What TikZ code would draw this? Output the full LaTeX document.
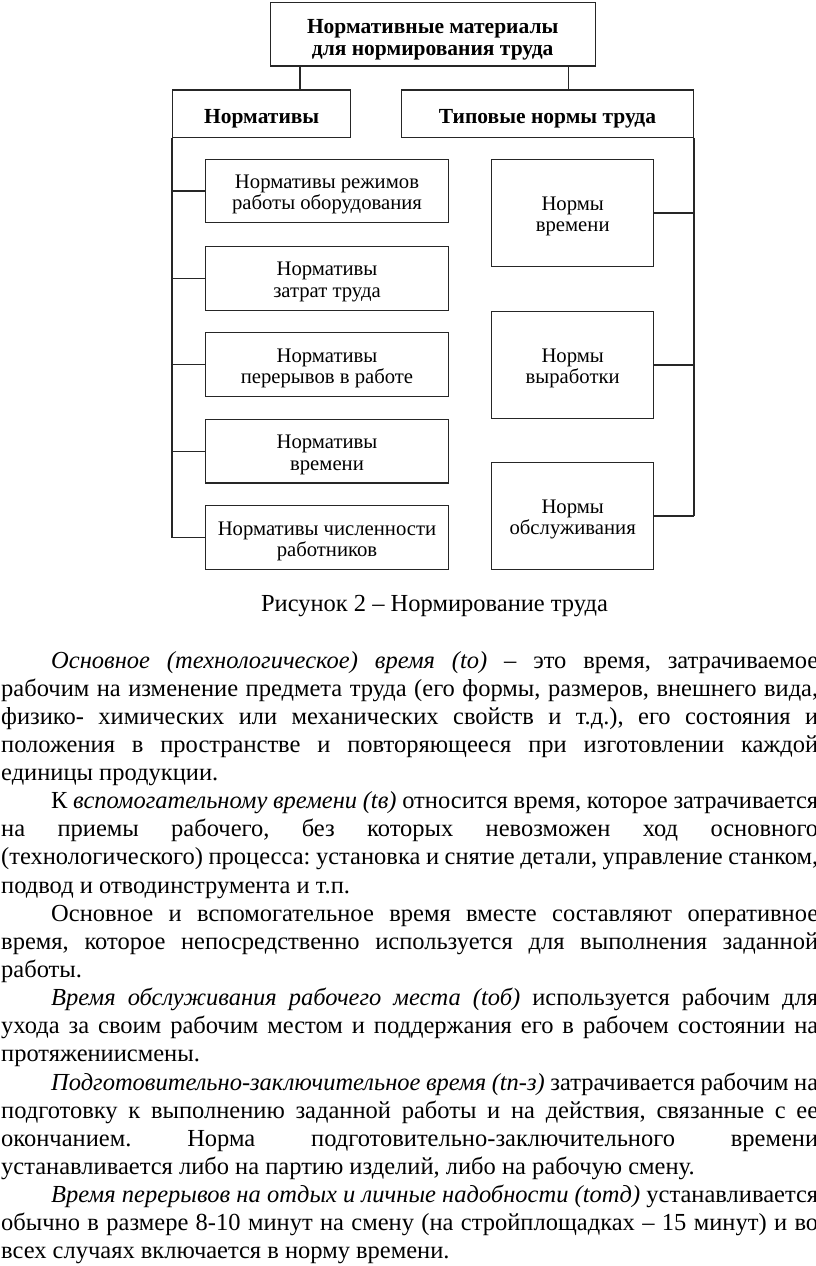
\documentclass[tikz,border=0pt]{standalone}
\usepackage{fontspec}
\setmainfont{Liberation Serif}
\frenchspacing
\newcommand\boxfont{\fontsize{20.7}{21.3}\selectfont}
\newcommand\hdfont{\fontsize{21.5}{21.7}\selectfont\bfseries}
\newcommand\bodyfont{\fontsize{24.5}{28.3}\selectfont\frenchspacing}
\newlength\fullW \setlength\fullW{817pt}
\newlength\indW \setlength\indW{767pt}
\newcommand\jf[1]{\makebox[\fullW][s]{#1}}
\newcommand\ji[1]{\makebox[\indW][s]{#1}}
\tikzset{
  box/.style={draw=black!85, line width=1.3pt, inner sep=0pt, align=center, font=\boxfont, text height=38pt, text depth=0.4pt},
  hbox/.style={box, font=\hdfont, text height=19pt, text depth=0pt},
  tbox/.style={box, font=\hdfont, text height=42pt, text depth=0.8pt},
  lbox/.style={box, minimum width=242.6pt, minimum height=63.5pt},
  rbox/.style={box, minimum width=162pt},
  conn/.style={draw=black!85, line width=1.3pt},
  tline/.style={inner sep=0pt, anchor=base west, font=\bodyfont},
}
\begin{document}
\begin{tikzpicture}[x=1pt,y=-1pt]
\useasboundingbox (0,0) rectangle (816,1266);
\fill[white] (0,0) rectangle (816,1266);
% diagram
\node[tbox, minimum width=325pt, minimum height=63.3pt] (top) at (432.7,34.4) {Нормативные материалы\\для нормирования труда};
\node[hbox, minimum width=178pt, minimum height=47.7pt] (norm) at (261.7,113.8) {Нормативы};
\node[hbox, minimum width=291.6pt, minimum height=47.7pt] (typ) at (547.5,113.8) {Типовые нормы труда};
\node[lbox] (l1) at (327,191) {Нормативы режимов\\работы оборудования};
\node[lbox] (l2) at (327,278.4) {Нормативы\\затрат труда};
\node[lbox] (l3) at (327,364.5) {Нормативы\\перерывов в работе};
\node[lbox] (l4) at (327,451.3) {Нормативы\\времени};
\node[lbox] (l5) at (327,537.5) {Нормативы численности\\работников};
\node[rbox, minimum height=107.4pt] (r1) at (572.7,213) {Нормы\\времени};
\node[rbox, minimum height=106.6pt] (r2) at (572.7,365) {Нормы\\выработки};
\node[rbox, minimum height=106.6pt] (r3) at (572.7,516) {Нормы\\обслуживания};
\coordinate (c1) at (300,0);
\coordinate (c2) at (568.3,0);
\draw[conn] (top.south -| c1) -- (norm.north -| c1);
\draw[conn] (top.south -| c2) -- (typ.north -| c2);
\draw[conn] (norm.south west) -- (norm.south west |- l5.west);
\foreach \n in {l1,l2,l3,l4,l5} \draw[conn] (\n.west) -- (\n.west -| norm.south west);
\draw[conn] (typ.south east) -- (typ.south east |- r3.east);
\foreach \n in {r1,r2,r3} \draw[conn] (\n.east) -- (\n.east -| typ.south east);
% caption
\node[inner sep=0pt, anchor=base, font=\bodyfont] (cap) at (434.5,611) {Рисунок 2 – Нормирование труда};
% body text
\node[tline] (t1) at (51,668) {\ji{\textit{Основное (технологическое) время (tо)} – это время, затрачиваемое}};
\node[tline] (t2) at (1,696.14) {\jf{рабочим на изменение предмета труда (его формы, размеров, внешнего вида,}};
\node[tline] (t3) at (1,724.28) {\jf{физико- химических или механических свойств и т.д.), его состояния и}};
\node[tline] (t4) at (1,752.42) {\jf{положения в пространстве и повторяющееся при изготовлении каждой}};
\node[tline] (t5) at (1,780.56) {единицы продукции.};
\node[tline] (t6) at (51,808.7) {\ji{К \textit{вспомогательному времени (tв)} относится время, которое затрачивается}};
\node[tline] (t7) at (1,836.84) {\jf{на приемы рабочего, без которых невозможен ход основного}};
\node[tline] (t8) at (1,864.98) {\jf{(технологического) процесса: установка и снятие детали, управление станком,}};
\node[tline] (t9) at (1,893.12) {подвод и отводинструмента и т.п.};
\node[tline] (t10) at (51,921.26) {\ji{Основное и вспомогательное время вместе составляют оперативное}};
\node[tline] (t11) at (1,949.4) {\jf{время, которое непосредственно используется для выполнения заданной}};
\node[tline] (t12) at (1,977.54) {работы.};
\node[tline] (t13) at (51,1005.68) {\ji{\textit{Время обслуживания рабочего места (tоб)} используется рабочим для}};
\node[tline] (t14) at (1,1033.82) {\jf{ухода за своим рабочим местом и поддержания его в рабочем состоянии на}};
\node[tline] (t15) at (1,1061.96) {протяжениисмены.};
\node[tline] (t16) at (51,1090.1) {\ji{\textit{Подготовительно-заключительное время (tп-з)} затрачивается рабочим на}};
\node[tline] (t17) at (1,1118.24) {\jf{подготовку к выполнению заданной работы и на действия, связанные с ее}};
\node[tline] (t18) at (1,1146.38) {\jf{окончанием. Норма подготовительно-заключительного времени}};
\node[tline] (t19) at (1,1174.52) {устанавливается либо на партию изделий, либо на рабочую смену.};
\node[tline] (t20) at (51,1202.66) {\ji{\textit{Время перерывов на отдых и личные надобности (tотд)} устанавливается}};
\node[tline] (t21) at (1,1230.8) {\jf{обычно в размере 8-10 минут на смену (на стройплощадках – 15 минут) и во}};
\node[tline] (t22) at (1,1258.94) {всех случаях включается в норму времени.};
\end{tikzpicture}
\end{document}
